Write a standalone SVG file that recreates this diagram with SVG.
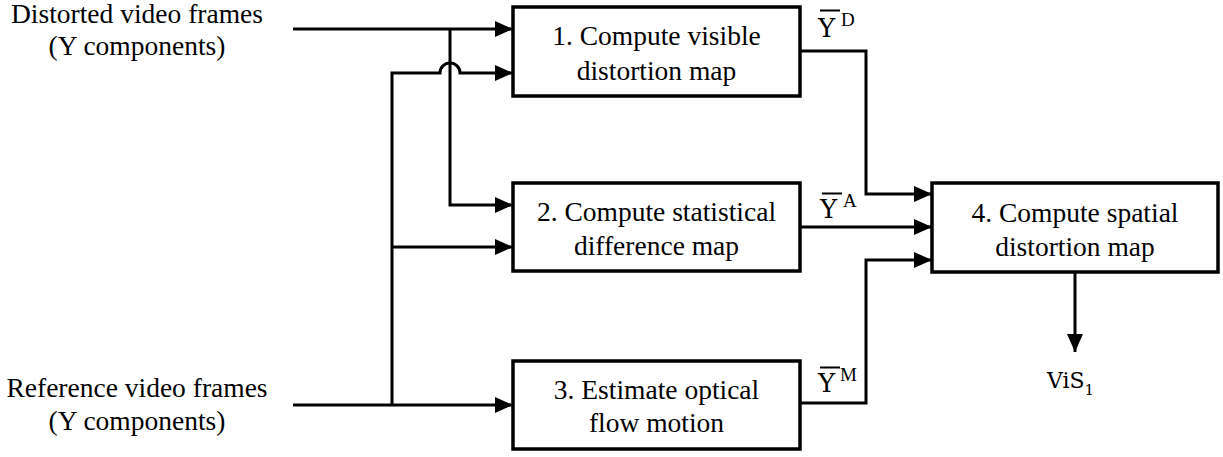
<svg xmlns="http://www.w3.org/2000/svg" width="1223" height="457" viewBox="0 0 1223 457">
<style>
.box{fill:#fff;stroke:#000;stroke-width:3.5}
.ln{fill:none;stroke:#000;stroke-width:3}
.t{font-family:'Liberation Serif','Times New Roman',serif;font-size:27.5px;fill:#000;text-anchor:middle}
.m{font-family:'DejaVu Serif',serif;font-size:26px;fill:#000}
.sup{font-family:'Liberation Serif',serif;font-size:19px;fill:#000}
</style>
<defs>
<marker id="ah" markerWidth="18" markerHeight="16" refX="18" refY="8" orient="auto" markerUnits="userSpaceOnUse">
<path d="M0,0 L18,8 L0,16 Z" fill="#000"/>
</marker>
</defs>
<g id="connectors">
<path class="ln" d="M293,29 H513" marker-end="url(#ah)"/>
<path class="ln" d="M450,29 V205 H513" marker-end="url(#ah)"/>
<path class="ln" d="M392,405 V73 H440 A10,10 0 0 1 460,73 H513" marker-end="url(#ah)"/>
<path class="ln" d="M392,247 H513" marker-end="url(#ah)"/>
<path class="ln" d="M293,405 H513" marker-end="url(#ah)"/>
<path class="ln" d="M800,51 H866 V194 H932" marker-end="url(#ah)"/>
<path class="ln" d="M800,227 H932" marker-end="url(#ah)"/>
<path class="ln" d="M800,403 H866 V260 H932" marker-end="url(#ah)"/>
<path class="ln" d="M1075,272 V352" marker-end="url(#ah)"/>
</g>
<g id="input-distorted">
<text class="t" font-family="Liberation Serif" x="137" y="23">Distorted video frames</text>
<text class="t" font-family="Liberation Serif" x="137" y="55">(Y components)</text>
</g>
<g id="input-reference">
<text class="t" font-family="Liberation Serif" x="137" y="397">Reference video frames</text>
<text class="t" font-family="Liberation Serif" x="137" y="430">(Y components)</text>
</g>
<g id="node1">
<rect class="box" x="513" y="7" width="287" height="89"/>
<text class="t" font-family="Liberation Serif" x="656.5" y="45">1. Compute visible</text>
<text class="t" font-family="Liberation Serif" x="656.5" y="80">distortion map</text>
</g>
<g id="node2">
<rect class="box" x="513" y="183" width="287" height="88"/>
<text class="t" font-family="Liberation Serif" x="656.5" y="221">2. Compute statistical</text>
<text class="t" font-family="Liberation Serif" x="656.5" y="255">difference map</text>
</g>
<g id="node3">
<rect class="box" x="513" y="361" width="287" height="88"/>
<text class="t" font-family="Liberation Serif" x="656.5" y="399">3. Estimate optical</text>
<text class="t" font-family="Liberation Serif" x="656.5" y="432">flow motion</text>
</g>
<g id="node4">
<rect class="box" x="932" y="183" width="286" height="89"/>
<text class="t" font-family="Liberation Serif" x="1075" y="222">4. Compute spatial</text>
<text class="t" font-family="Liberation Serif" x="1075" y="256">distortion map</text>
</g>
<g id="label-D">
<line x1="820" y1="10.5" x2="840" y2="10.5" stroke="#000" stroke-width="2"/>
<text class="m" x="818" y="37">Υ</text>
<text class="sup" x="841" y="26">D</text>
</g>
<g id="label-A">
<line x1="822" y1="193.5" x2="842" y2="193.5" stroke="#000" stroke-width="2"/>
<text class="m" x="820" y="218">Υ</text>
<text class="sup" x="843" y="207">A</text>
</g>
<g id="label-M">
<line x1="820" y1="367.5" x2="840" y2="367.5" stroke="#000" stroke-width="2"/>
<text class="m" x="818" y="392">Υ</text>
<text class="sup" x="840" y="381">M</text>
</g>
<g id="output">
<text class="m" x="1047" y="388" style="font-size:22px">ViS<tspan style="font-size:15px" dy="7">1</tspan></text>
</g>
</svg>
